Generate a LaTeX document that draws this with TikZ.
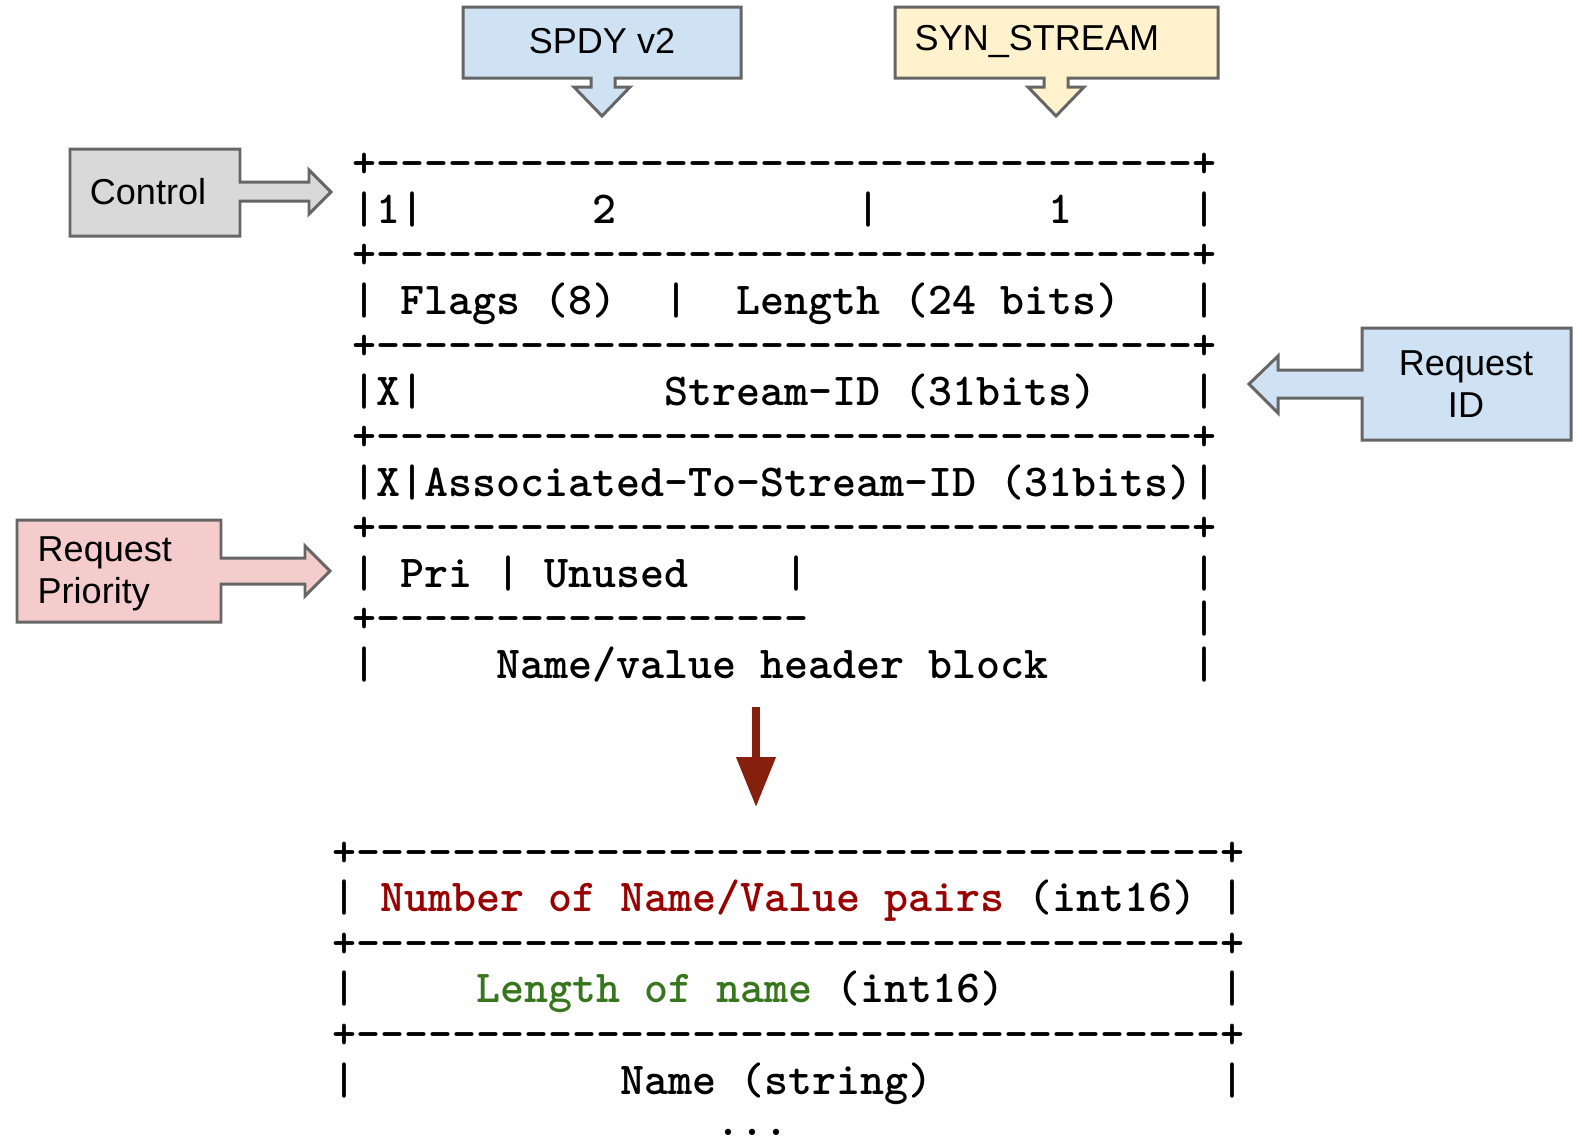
\documentclass[tikz,border=0pt]{standalone}
\usepackage{fontspec}
\newfontfamily\calloutfont{Liberation Sans}
\usetikzlibrary{arrows.meta}
\usepackage{xcolor}
\definecolor{calgray}{HTML}{666666}
\definecolor{calblue}{HTML}{CFE2F3}
\definecolor{calyellow}{HTML}{FFF2CC}
\definecolor{calsilver}{HTML}{D9D9D9}
\definecolor{calpink}{HTML}{F4CCCC}
\definecolor{nvred}{HTML}{990000}
\definecolor{nvgreen}{HTML}{38761D}
\definecolor{nvarrow}{HTML}{85200C}
% one hyphen per group, so no -- ligature
\newcommand\dashes[1]{\foreach \d in {1,...,#1}{-}}

\begin{document}
\begin{tikzpicture}[x=0.01cm, y=-0.01cm,
    row/.style={anchor=base west, inner sep=0pt, font=\ttfamily\bfseries\fontsize{13}{15}\selectfont},
    callout/.style={draw=calgray, line width=0.85pt, line join=miter},
    label/.style={inner sep=0pt, font=\calloutfont\fontsize{10.25}{11.95}\selectfont}]
    \useasboundingbox (0,0) rectangle (1582,1138);

    % callouts
    \draw[callout, fill=calblue] (463,7) -- (741,7) -- (741,78) -- (615,78) -- (615,87) -- (630,87)
        -- (602,116) -- (574,87) -- (591,87) -- (591,78) -- (463,78) -- cycle;
    \node[label] (spdy) at (602,41) {SPDY v2};
    \draw[callout, fill=calyellow] (895,7) -- (1218,7) -- (1218,78) -- (1068,78) -- (1068,87) -- (1084,87)
        -- (1056,116) -- (1028,87) -- (1044,87) -- (1044,78) -- (895,78) -- cycle;
    \node[label, anchor=west] (syn) at (914,41) {SYN\_STREAM};
    \draw[callout, fill=calsilver] (70,149) -- (240,149) -- (240,182) -- (309,182) -- (309,170) -- (331,192)
        -- (309,214) -- (309,201) -- (240,201) -- (240,236) -- (70,236) -- cycle;
    \node[label] (ctrl) at (148,192) {Control};
    \draw[callout, fill=calpink] (17,520) -- (221,520) -- (221,558) -- (305,558) -- (305,546) -- (330,571)
        -- (305,596) -- (305,584) -- (221,584) -- (221,622) -- (17,622) -- cycle;
    \node[label, anchor=west, align=left] (prio) at (37,574) {Request\\Priority};
    \draw[callout, fill=calblue] (1362,328) -- (1571,328) -- (1571,440) -- (1362,440) -- (1362,398) -- (1278,398)
        -- (1278,413) -- (1249,384) -- (1278,356) -- (1278,370) -- (1362,370) -- cycle;
    \node[label, align=center] (reqid) at (1466,384) {Request\\ID};

    % SYN_STREAM frame
    \node[row] (t0) at (352,177.5) {+\dashes{34}+};
    \node[row] (t1) at (352,223) {|1|~~~~~~~2~~~~~~~~~~|~~~~~~~1~~~~~|};
    \node[row] (t2) at (352,268.5) {+\dashes{34}+};
    \node[row] (t3) at (352,314) {|~Flags~(8)~~|~~Length~(24~bits)~~~|};
    \node[row] (t4) at (352,359.5) {+\dashes{34}+};
    \node[row] (t5) at (352,405) {|X|~~~~~~~~~~Stream-ID~(31bits)~~~~|};
    \node[row] (t6) at (352,450.5) {+\dashes{34}+};
    \node[row] (t7) at (352,496) {|X|Associated-To-Stream-ID~(31bits)|};
    \node[row] (t8) at (352,541.5) {+\dashes{34}+};
    \node[row] (t9) at (352,587) {|~Pri~|~Unused~~~~|~~~~~~~~~~~~~~~~|};
    \node[row] (t10) at (352,632.5) {+\dashes{18}~~~~~~~~~~~~~~~~|};
    \node[row] (t11) at (352,678) {|~~~~~Name/value~header~block~~~~~~|};

    % header block
    \node[row] (b0) at (332,866) {+\dashes{36}+};
    \node[row] (b1) at (332,911.6) {|~\textcolor{nvred}{Number~of~Name/Value~pairs}~(int16)~|};
    \node[row] (b2) at (332,957.2) {+\dashes{36}+};
    \node[row] (b3) at (332,1002.8) {|~~~~~\textcolor{nvgreen}{Length~of~name}~(int16)~~~~~~~~~|};
    \node[row] (b4) at (332,1048.4) {+\dashes{36}+};
    \node[row] (b5) at (332,1094) {|~~~~~~~~~~~Name~(string)~~~~~~~~~~~~|};
    \node[row] (b6) at (332,1135) {~~~~~~~~~~~~~~~~...};

    \coordinate (blockout) at (756,707);
    \coordinate (pairsin) at (756,807);
    \draw[nvarrow, line width=2.1pt, -{Triangle[width=10.8pt, length=14.2pt]}] (blockout) -- (pairsin);
\end{tikzpicture}
\end{document}
